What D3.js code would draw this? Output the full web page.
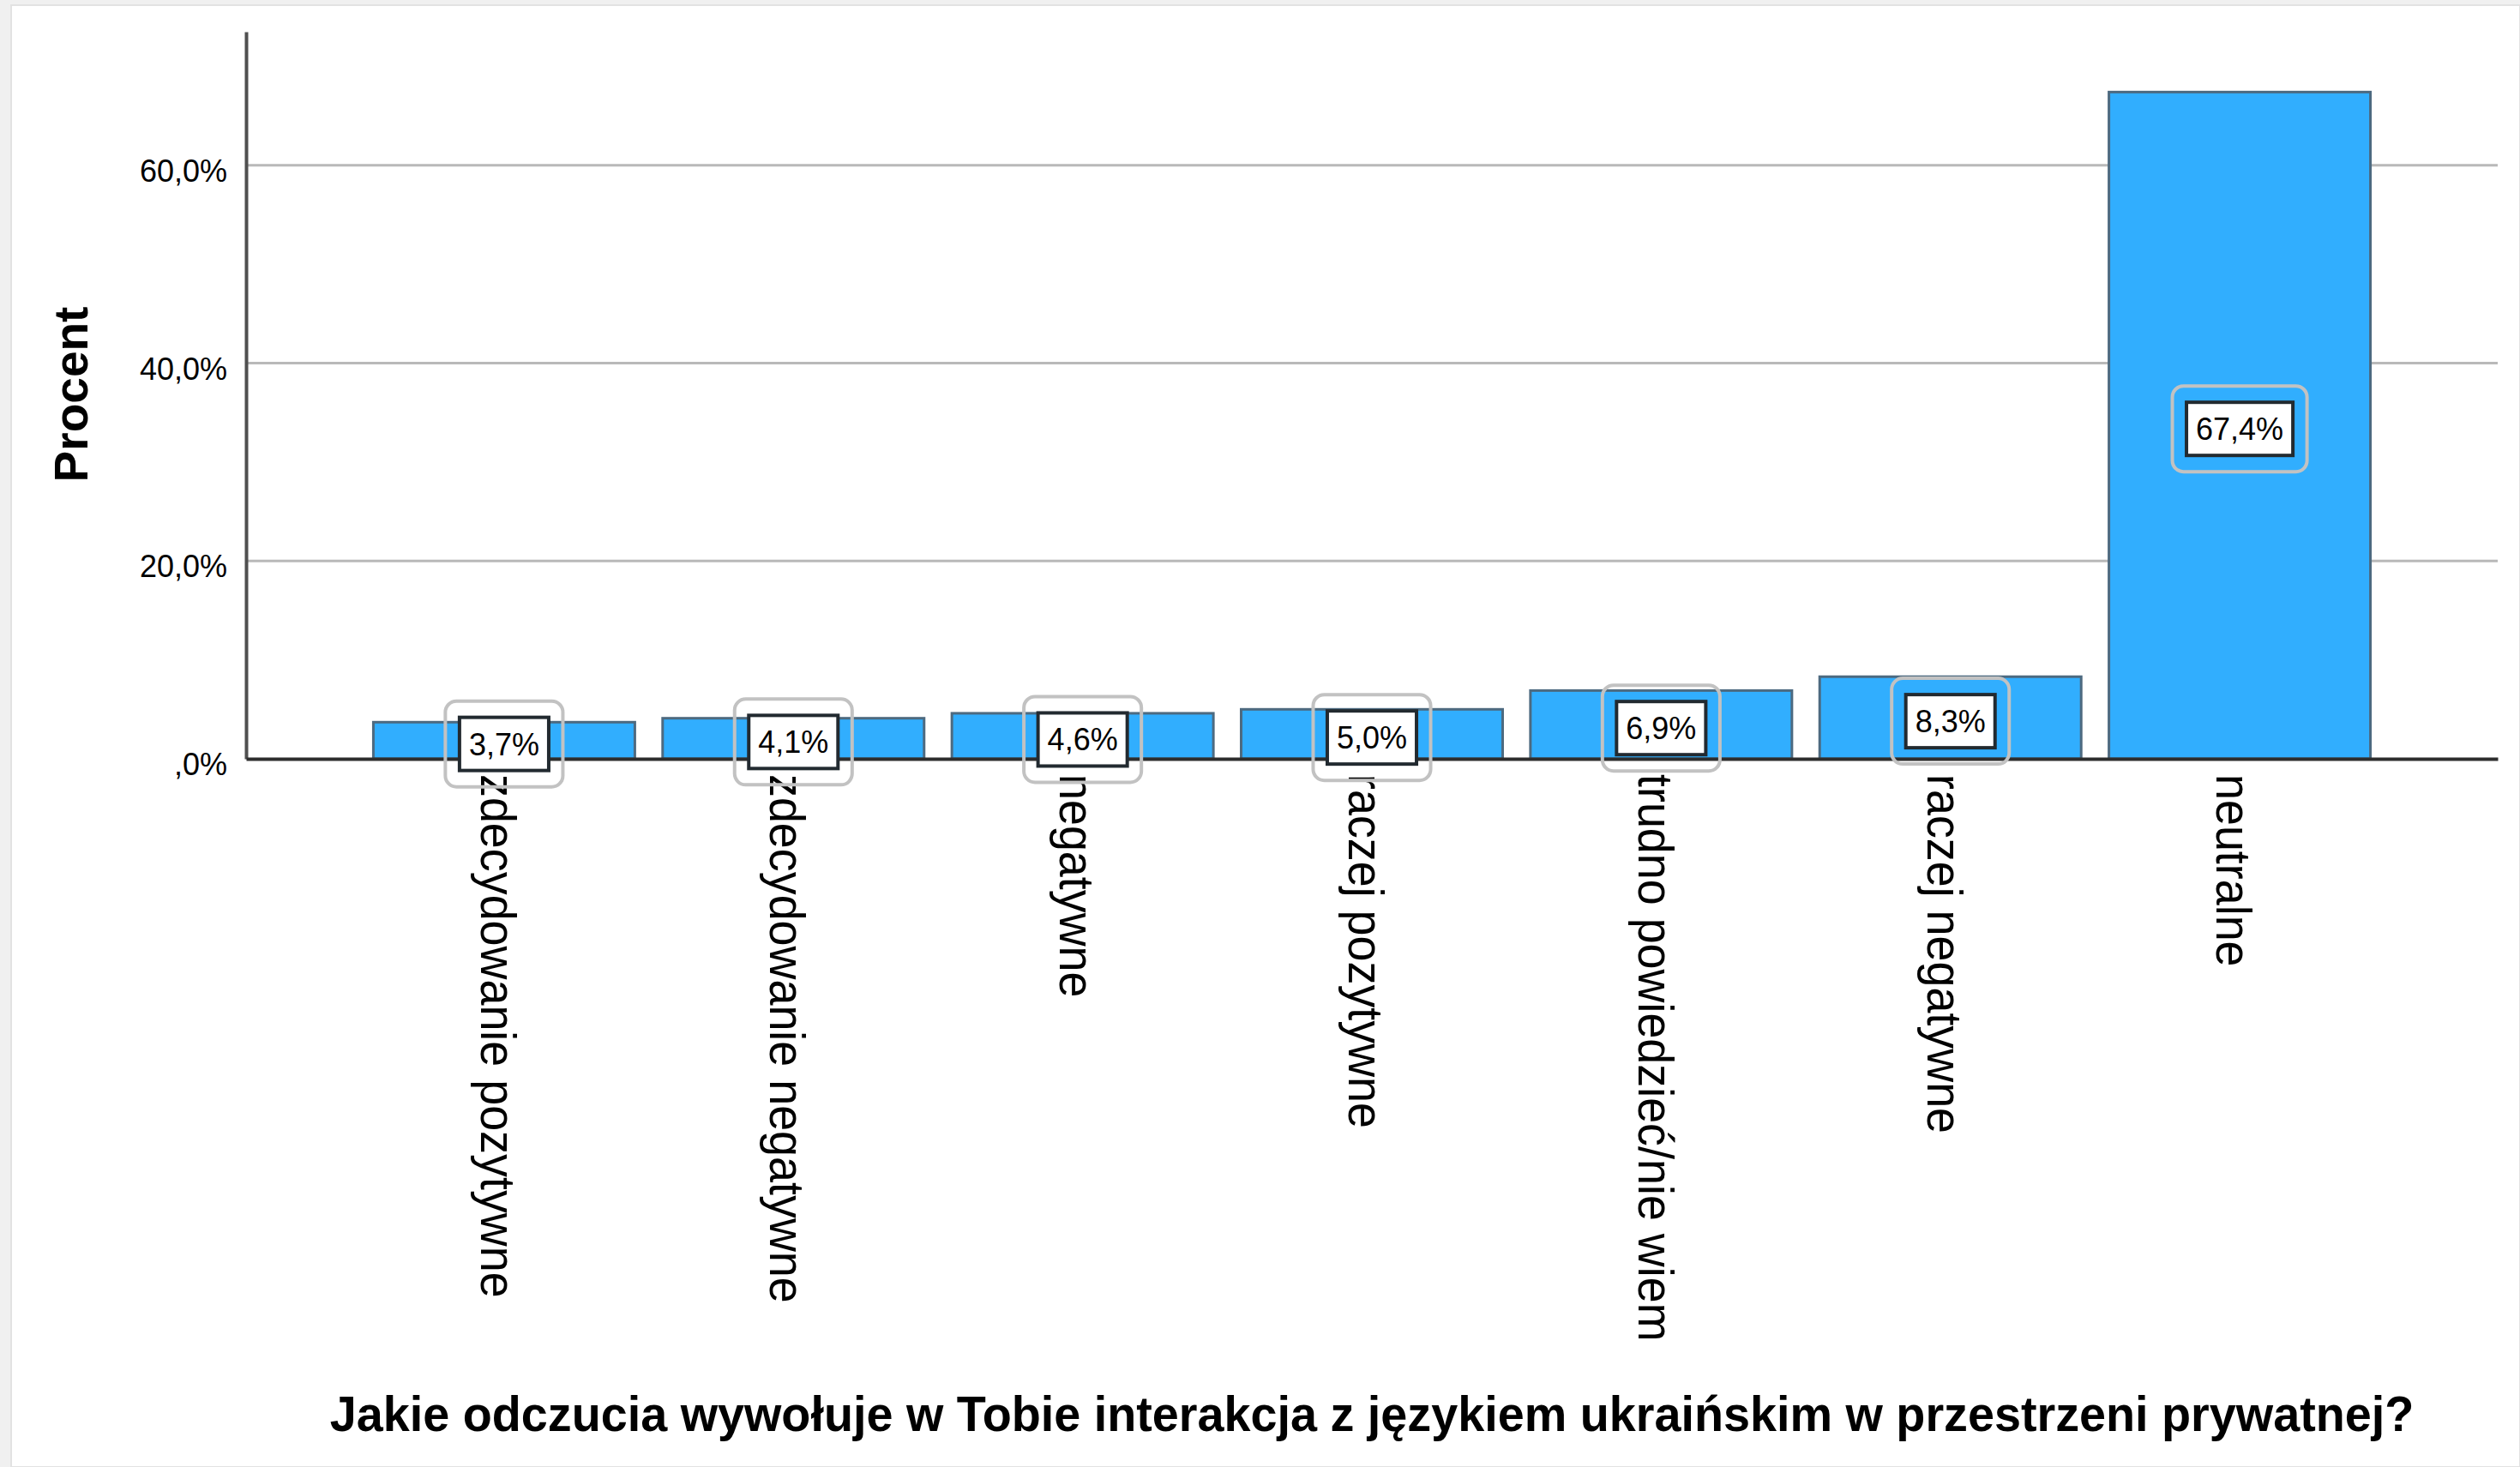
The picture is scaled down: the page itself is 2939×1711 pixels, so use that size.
<!DOCTYPE html>
<html>
<head>
<meta charset="utf-8">
<script src="https://cdn.jsdelivr.net/npm/d3@7"></script>
<style>
  html, body { margin: 0; padding: 0; background: #f0f0f0; }
  svg { display: block; }
  text { font-family: "Liberation Sans", Arial, sans-serif; fill: #000; }
</style>
</head>
<body>
<script>
// ---- data ----
const categories = [
  "zdecydowanie pozytywne",
  "zdecydowanie negatywne",
  "negatywne",
  "raczej pozytywne",
  "trudno powiedzieć/nie wiem",
  "raczej negatywne",
  "neutralne"
];
const percentValues = [3.7, 4.1, 4.6, 5.0, 6.9, 8.3, 67.4];
const valueLabels = ["3,7%", "4,1%", "4,6%", "5,0%", "6,9%", "8,3%", "67,4%"];
const tickValues = [0, 20, 40, 60];
const tickLabels = [",0%", "20,0%", "40,0%", "60,0%"];
const yTitle = "Procent";
const xTitle = "Jakie odczucia wywołuje w Tobie interakcja z językiem ukraińskim w przestrzeni prywatnej?";

// ---- layout ----
(function () {
const W = 2939, H = 1711;
const pLeft = 287, pRight = 2913, pTop = 37, pBottom = 885;

const svg = d3.select("body").append("svg")
  .attr("width", W).attr("height", H);

// background panel
svg.append("rect").attr("x", 0).attr("y", 0).attr("width", W).attr("height", H).attr("fill", "#f0f0f0");
svg.append("rect").attr("x", 13).attr("y", 6).attr("width", W - 13).attr("height", H - 6)
  .attr("fill", "#ffffff").attr("stroke", "#e2e2e2").attr("stroke-width", 2);

const x = d3.scaleBand().domain(categories).range([pLeft, pRight])
  .paddingInner(0.096).paddingOuter(0.44);
const y = d3.scaleLinear().domain([0, 73.5]).range([pBottom, pTop]);

// gridlines
svg.append("g").selectAll("line")
  .data(tickValues.filter(d => d > 0))
  .join("line")
  .attr("x1", pLeft).attr("x2", pRight)
  .attr("y1", d => y(d)).attr("y2", d => y(d))
  .attr("stroke", "#b9b9b9").attr("stroke-width", 3);

// bars
svg.append("g").selectAll("rect")
  .data(percentValues)
  .join("rect")
  .attr("x", (d, i) => x(categories[i]))
  .attr("y", d => y(d))
  .attr("width", x.bandwidth())
  .attr("height", d => y(0) - y(d))
  .attr("fill", "#31aefe")
  .attr("stroke", "#4d6a80")
  .attr("stroke-width", 3);

// y axis
const yAxis = svg.append("g")
  .attr("transform", `translate(${pLeft},0)`)
  .call(d3.axisLeft(y).tickValues(tickValues)
    .tickFormat((d, i) => tickLabels[i]).tickSize(0).tickPadding(22));
yAxis.select(".domain").attr("stroke", "#505050").attr("stroke-width", 4);
yAxis.selectAll(".tick text")
  .attr("font-size", 36)
  .attr("font-family", "\"Liberation Sans\", Arial, sans-serif")
  .attr("fill", "#000")
  .attr("dy", "0.52em");

// x axis
const xAxis = svg.append("g")
  .attr("transform", `translate(0,${pBottom})`)
  .call(d3.axisBottom(x).tickSize(0));
xAxis.select(".domain").attr("stroke", "#2d2d2d").attr("stroke-width", 4);
xAxis.selectAll(".tick text")
  .attr("font-size", 57)
  .attr("font-family", "\"Liberation Sans\", Arial, sans-serif")
  .attr("fill", "#000")
  .attr("text-anchor", "start")
  .attr("x", 0).attr("y", 0)
  .attr("dy", "0.47em")
  .attr("transform", "translate(0,18) rotate(90) scale(0.945,1)");

// value labels
const lab = svg.append("g").selectAll("g")
  .data(percentValues)
  .join("g")
  .attr("transform", (d, i) =>
    `translate(${x(categories[i]) + x.bandwidth() / 2},${y(d / 2) + 4})`);

lab.each(function (d, i) {
  const g = d3.select(this);
  const t = g.append("text")
    .attr("text-anchor", "middle")
    .attr("font-size", 36)
    .attr("dy", "0.36em")
    .text(valueLabels[i]);
  const tw = t.node().getComputedTextLength();
  g.insert("rect", "text")
    .attr("x", -(tw + 55) / 2).attr("y", -50)
    .attr("width", tw + 55).attr("height", 100)
    .attr("rx", 13)
    .attr("fill", "none")
    .attr("stroke", "#c2c2c2").attr("stroke-width", 4);
  g.insert("rect", "text")
    .attr("x", -(tw + 22) / 2).attr("y", -31)
    .attr("width", tw + 22).attr("height", 62)
    .attr("fill", "#ffffff")
    .attr("stroke", "#222a30").attr("stroke-width", 4);
});

// y title
svg.append("text")
  .attr("transform", "translate(102,460) rotate(-90)")
  .attr("text-anchor", "middle")
  .attr("font-size", 55)
  .attr("font-weight", "bold")
  .text(yTitle);

// x title
const xt = svg.append("text")
  .attr("text-anchor", "middle")
  .attr("font-size", 58)
  .attr("font-weight", "bold")
  .text(xTitle);
const xtw = xt.node().getComputedTextLength();
xt.attr("transform", `translate(${(pLeft + pRight) / 2},1669) scale(${2431 / xtw},1)`);
})();
</script>
</body>
</html>
